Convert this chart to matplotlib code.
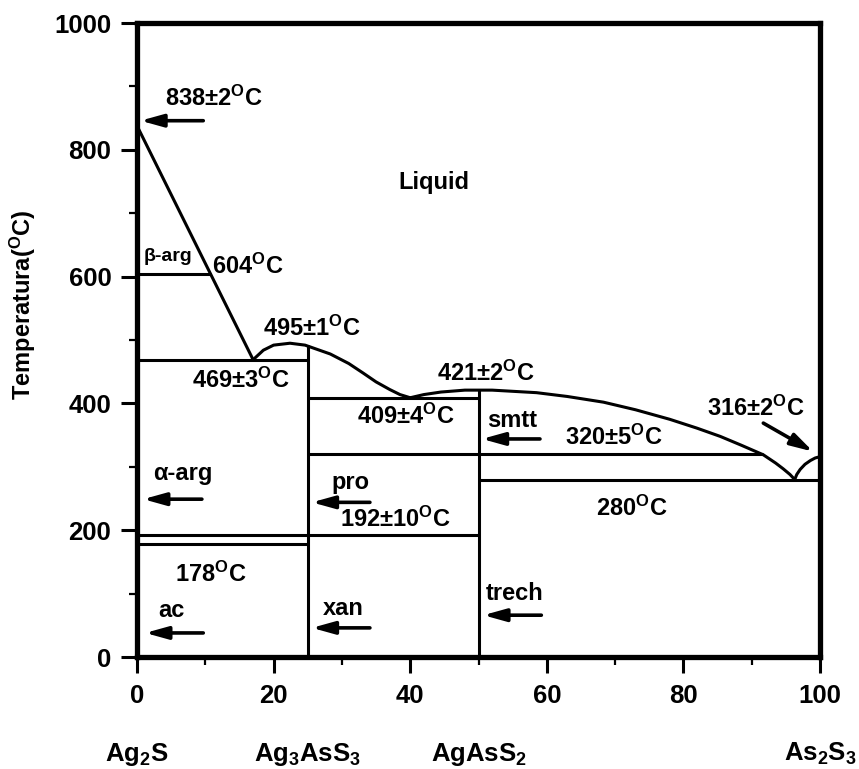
import numpy as np
import matplotlib
matplotlib.use("Agg")
import matplotlib.pyplot as plt
from matplotlib.ticker import MultipleLocator

plt.rcParams['font.family'] = ['Liberation Sans', 'DejaVu Sans']
plt.rcParams['font.weight'] = 'bold'
plt.rcParams['mathtext.fontset'] = 'custom'
plt.rcParams['mathtext.rm'] = 'Liberation Sans:bold'
plt.rcParams['mathtext.bf'] = 'Liberation Sans:bold'
plt.rcParams['mathtext.it'] = 'Liberation Sans:bold'

# Ag2S liquidus (straight line from the melting point to the eutectic)
liq_ag2s_x = [0, 17.0]
liq_ag2s_t = [838, 469]

# Ag3AsS3 liquidus dome
liq_pro_x = [17.0, 18.5, 20.0, 22.4, 24.6, 28.3, 31.0, 33.1, 35.0, 37.0, 38.5, 40.0]
liq_pro_t = [469, 484, 492, 495, 492, 478, 463, 448, 434, 422, 414, 409]

# AgAsS2 liquidus down to the As2S3-side eutectic
liq_smtt_x = [40.0, 42.0, 44.5, 48.0, 52.0, 58.5, 63.0, 68.3, 73.0, 78.0, 82.0,
              85.4, 88.5, 91.7, 93.5, 94.6, 95.6, 96.3]
liq_smtt_t = [409, 414, 418, 421, 421, 417, 411, 402, 390, 375, 361,
              348, 334, 319, 306, 297, 288, 280]

# As2S3 liquidus
liq_as_x = [96.3, 96.6, 97.1, 97.8, 98.6, 99.3, 100.0]
liq_as_t = [280, 288, 296, 304, 310, 314, 316]

# horizontal invariant lines: start x, end x, temperature
iso_x0 = [0, 0, 25, 25, 50, 0, 0]
iso_x1 = [10.8, 25, 50, 91.6, 100, 50, 25]
iso_t = [604, 469, 409, 320, 280, 192, 178]

# vertical compound lines: x, top temperature
vert_x = [25, 50]
vert_top = [492, 421]

compounds = ['Ag$_2$S', 'Ag$_3$AsS$_3$', 'AgAsS$_2$', 'As$_2$S$_3$']
compound_x = [0, 25, 50, 100]

deg = '$^{\\mathrm{O}}$C'
labels = ['838±2' + deg, '604' + deg, '495±1' + deg, '469±3' + deg, '409±4' + deg,
          '421±2' + deg, '320±5' + deg, '316±2' + deg, '280' + deg, '192±10' + deg,
          '178' + deg, 'β-arg', 'α-arg', 'ac', 'pro', 'xan', 'smtt', 'trech']
label_x = [4.1, 11.0, 18.4, 8.1, 32.2, 43.9, 62.7, 83.5, 67.2, 29.7,
           5.6, 0.9, 2.4, 3.1, 28.5, 27.2, 51.2, 51.1]
label_t = [881, 617, 519, 437, 379, 447, 346, 393, 235, 217,
           130, 632, 289, 73, 276, 76, 373, 100]
label_size = [17] * 11 + [14] + [17] * 6

# arrows: tail (x, T) -> head (x, T)
arr_x0 = [9.7, 9.5, 9.7, 34.1, 34.1, 59.0, 59.2, 91.7]
arr_t0 = [846, 249, 38, 244, 46, 344, 66, 369]
arr_x1 = [0.5, 0.9, 1.2, 25.6, 25.6, 50.5, 50.7, 99.0]
arr_t1 = [846, 249, 38, 244, 46, 344, 66, 324]

fig = plt.figure(figsize=(8.59, 7.69), dpi=100)
ax = fig.add_axes([0.1595, 0.1456, 0.7951, 0.8244])

lw = 2.2
ax.plot(liq_ag2s_x, liq_ag2s_t, color='black', lw=lw)
ax.plot(liq_pro_x, liq_pro_t, color='black', lw=lw)
ax.plot(liq_smtt_x, liq_smtt_t, color='black', lw=lw)
ax.plot(liq_as_x, liq_as_t, color='black', lw=lw)
ax.hlines(iso_t, iso_x0, iso_x1, color='black', lw=lw)
ax.vlines(vert_x, 0, vert_top, color='black', lw=lw)

for s, x, t, fs in zip(labels, label_x, label_t, label_size):
    ax.text(x, t, s, fontsize=fs, fontweight='bold', ha='left', va='center')
ax.text(43.5, 748, 'Liquid', fontsize=17, fontweight='bold', ha='center', va='center')

for x0, t0, x1, t1 in zip(arr_x0, arr_t0, arr_x1, arr_t1):
    ax.annotate('', xy=(x1, t1), xytext=(x0, t0),
                arrowprops=dict(arrowstyle='-|>,head_length=0.9,head_width=0.25',
                                mutation_scale=15, lw=2.6, color='black',
                                shrinkA=0, shrinkB=0))

for c, x in zip(compounds, compound_x):
    ax.text(x, -0.153, c, fontsize=18.5, fontweight='bold', ha='center', va='center',
            transform=ax.get_xaxis_transform())

ax.set_xlim(0, 100)
ax.set_ylim(0, 1000)
ax.xaxis.set_major_locator(MultipleLocator(20))
ax.xaxis.set_minor_locator(MultipleLocator(10))
ax.yaxis.set_major_locator(MultipleLocator(200))
ax.yaxis.set_minor_locator(MultipleLocator(100))
ax.tick_params(which='major', direction='out', length=11.5, width=2.2, labelsize=18.5)
ax.tick_params(which='minor', direction='out', length=5.8, width=1.6)
ax.tick_params(axis='x', which='major', pad=8)
ax.tick_params(axis='y', which='major', pad=7)
for lab in ax.get_xticklabels() + ax.get_yticklabels():
    lab.set_fontweight('bold')
for sp in ax.spines.values():
    sp.set_linewidth(3.8)

# axis title placed by hand so it sits where the tick labels leave room
ax.text(-0.167, 0.555, 'Temperatura(' + deg + ')', fontsize=17, fontweight='bold',
        rotation=90, ha='center', va='center', transform=ax.transAxes)

fig.savefig('out.png', dpi=100)
